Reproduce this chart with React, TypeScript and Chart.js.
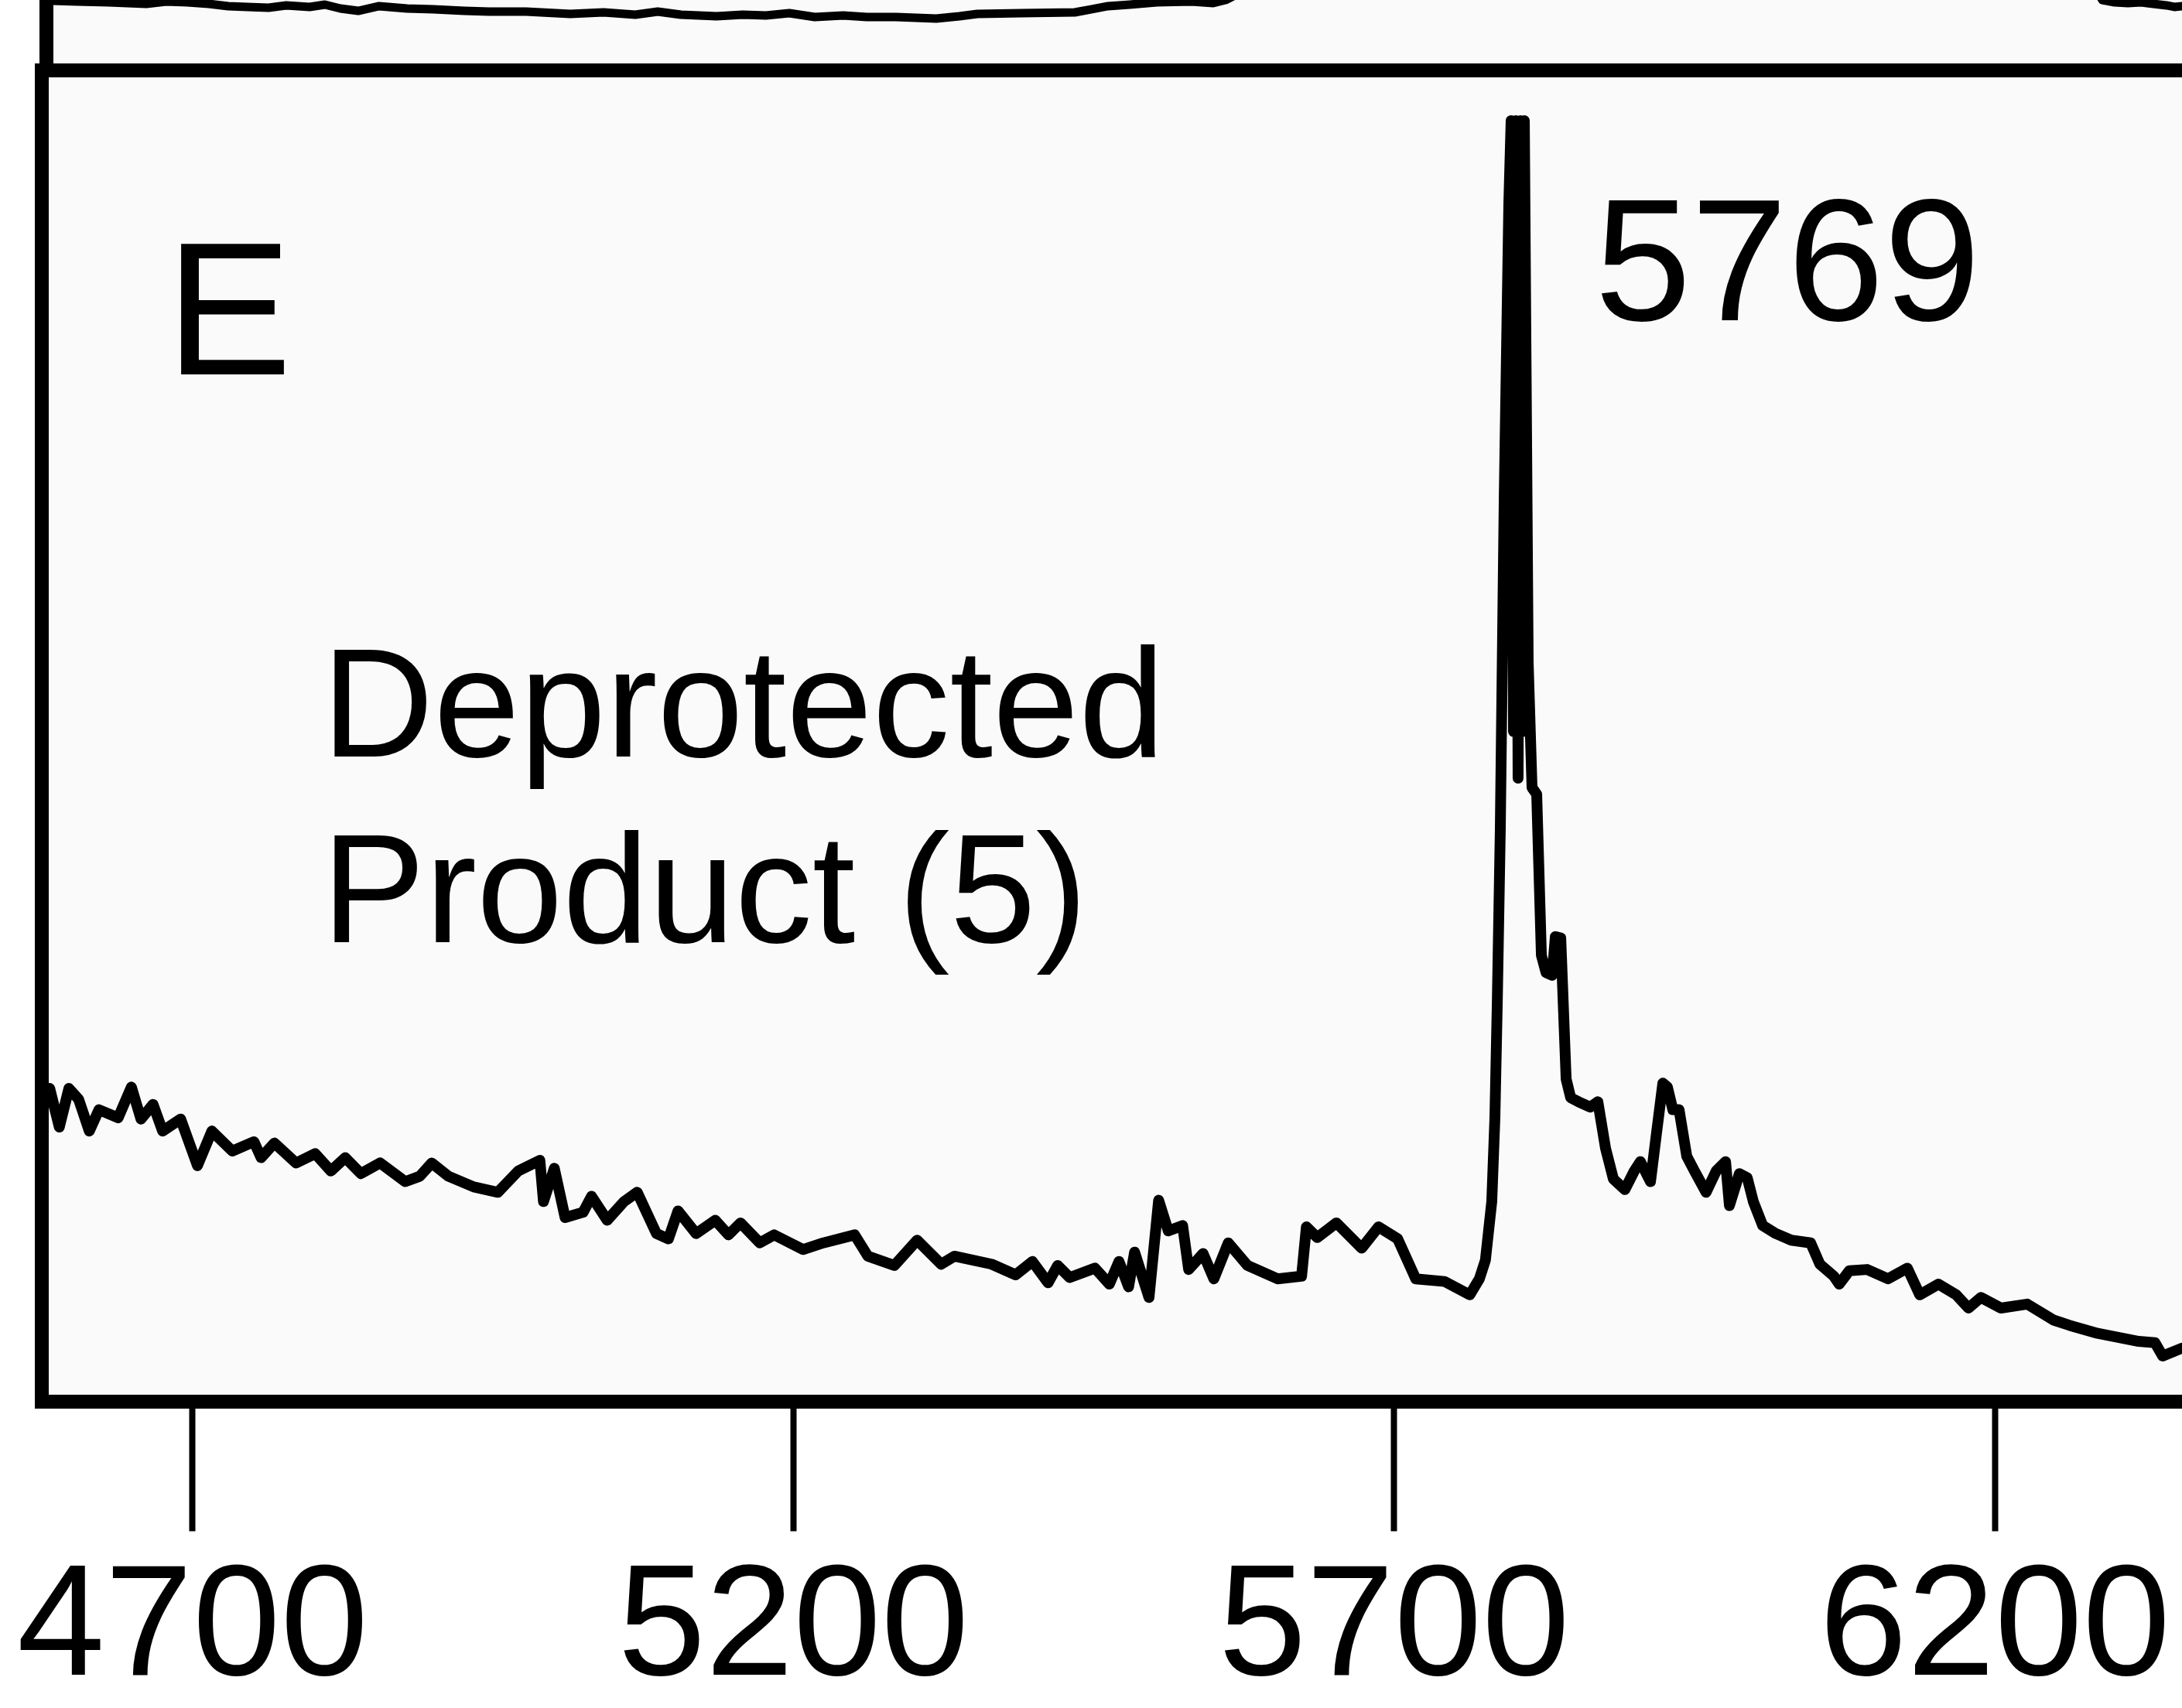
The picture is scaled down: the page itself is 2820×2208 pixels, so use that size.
import React, { useEffect, useRef } from "react";
import { Chart, registerables } from "chart.js";

Chart.register(...registerables);

// ---------- data ----------
const xTicks = [4700, 5200, 5700, 6200];

// Panel E spectrum: mass (Da) and intensity (a.u.), row by row
const massE = [
  4574, 4581, 4589, 4597, 4605, 4614, 4622, 4638, 4649, 4657, 4667, 4675,
  4690, 4704, 4716, 4733, 4751, 4757, 4768, 4786, 4802, 4815, 4827, 4840,
  4856, 4877, 4889, 4899, 4913, 4934, 4954, 4971, 4989, 4992, 5001, 5010,
  5025, 5032, 5045, 5059, 5070, 5086, 5096, 5104, 5119, 5135, 5146, 5156,
  5172, 5184, 5208, 5225, 5251, 5262, 5284, 5303, 5323, 5334, 5365, 5385,
  5399, 5412, 5420, 5430, 5451, 5463, 5471, 5479, 5484, 5496, 5504, 5512,
  5524, 5529, 5541, 5550, 5562, 5578, 5603, 5623, 5627, 5636, 5652, 5673,
  5687, 5703, 5718, 5742, 5763, 5771, 5776, 5781.3, 5783.9, 5785.9, 5788.4, 5791.7,
  5795.5, 5797.4, 5799.4, 5801.3, 5803.2, 5805.2, 5807.1, 5808.4, 5811.6, 5814.8, 5818.7, 5822.6,
  5826.5, 5831.6, 5834.2, 5838.7, 5843.2, 5847.0, 5853.5, 5863.2, 5869.6, 5876.0, 5882.5, 5892.1,
  5899.9, 5905.0, 5913.4, 5918.5, 5923.7, 5927.5, 5932.0, 5937.2, 5943.6, 5950.0, 5959.7, 5968.1,
  5975.9, 5979.1, 5987.4, 5993.9, 5999.0, 6006.8, 6017.7, 6030.6, 6046.7, 6054.4, 6066.0, 6070.5,
  6078.9, 6093.7, 6111.1, 6127.2, 6137.5, 6153.0, 6167.8, 6178.1, 6188.4, 6205.1, 6227.0, 6248.9,
  6262.4, 6285.6, 6319.8, 6333.3, 6339.7, 6356,
];
const intensityE = [
  22.5, 23.5, 20.6, 23.5, 22.7, 20.3, 21.9, 21.3, 23.6, 21.2, 22.3, 20.3,
  21.2, 17.7, 20.3, 18.8, 19.5, 18.3, 19.4, 17.9, 18.6, 17.3, 18.3, 17.1,
  17.9, 16.5, 16.9, 17.9, 16.9, 16.1, 15.7, 17.3, 18.1, 15.0, 17.5, 13.8,
  14.2, 15.4, 13.6, 15.0, 15.7, 12.6, 12.2, 14.3, 12.6, 13.6, 12.5, 13.4,
  11.9, 12.5, 11.4, 11.9, 12.5, 10.9, 10.2, 12.1, 10.3, 10.9, 10.3, 9.5,
  10.5, 8.9, 10.2, 9.3, 10.0, 8.8, 10.5, 8.6, 11.2, 7.8, 15.1, 12.8,
  13.2, 9.9, 11.1, 9.2, 11.9, 10.2, 9.2, 9.4, 13.1, 12.3, 13.4, 11.5,
  13.1, 12.2, 9.2, 9.0, 8.0, 9.2, 10.6, 15.0, 21.3, 30.0, 43.0, 68.1,
  90.0, 96.2, 50.3, 96.2, 46.8, 96.2, 50.3, 96.2, 55.5, 46.1, 45.6, 33.5,
  32.2, 32.0, 34.9, 34.8, 24.2, 22.8, 22.5, 22.1, 22.5, 19.0, 16.7, 15.9,
  17.3, 18.0, 16.5, 20.2, 23.9, 23.6, 21.9, 21.9, 18.4, 17.3, 15.7, 17.3,
  18.0, 14.7, 17.1, 16.8, 15.0, 13.2, 12.6, 12.1, 11.9, 10.3, 9.4, 8.8,
  9.8, 9.9, 9.2, 10.0, 8.0, 8.8, 8.0, 7.0, 7.8, 7.0, 7.3, 6.1,
  5.7, 5.1, 4.5, 4.4, 3.4, 4.0,
];

// Panel D (above, only its lowest part is visible); null = leaves the visible window
const massD = [
  4578.3, 4583.4, 4604.0, 4629.8, 4661.4, 4678.1, 4695.5, 4713.5, 4729.6, 4745.7, 4763.1, 4777.9,
  4797.3, 4810.1, 4823.0, 4837.8, 4855.2, 4878.4, 4900.3, 4926.1, 4946.7, 4977.6, 5014.3, 5042.0,
  5068.4, 5087.1, 5106.4, 5136.0, 5157.9, 5177.2, 5196.6, 5217.8, 5241.6, 5261.0, 5285.4, 5318.9,
  5338.2, 5353.1, 5389.8, 5434.2, 5447.7, 5461.9, 5479.9, 5502.5, 5531.5, 5549.5, 5559.8, 5570.1,
  5900, 6286.3, 6289.5, 6299.8, 6310.7, 6321.7, 6332.0, 6342.9, 6349.4, 6355.8,
];
const intensityD = [
  105.5, 98.9, 97.8, 96.7, 94.5, 97.8, 96.7, 94.5, 91.2, 90.1, 89.0, 92.3,
  90.1, 93.4, 87.8, 84.5, 91.2, 87.8, 86.7, 84.5, 83.4, 83.4, 80.1, 82.3,
  79.0, 83.4, 79.0, 76.8, 79.0, 77.9, 81.2, 75.7, 77.9, 75.7, 75.7, 73.5,
  76.8, 80.1, 81.2, 82.3, 86.7, 91.2, 93.4, 96.7, 97.8, 95.6, 100, 108.8,
  null, 108.8, 100, 96.7, 95.6, 96.7, 94.5, 92.3, 90.1, 91.2,
];

const panelLabel = "E";
const peakLabel = "5769";
const productLabel = ["Deprotected", "Product (5)"];

// ---------- helpers ----------
const FONT = '"Liberation Sans", Arial, Helvetica, sans-serif';
const W = 2820;
const H_E = 2250;
const H_D = 91;

function makeBgPlugin(color: string) {
  return {
    id: "plotBg",
    beforeDraw(chart: any) {
      const { ctx, chartArea: a } = chart;
      ctx.save();
      ctx.fillStyle = color;
      ctx.fillRect(a.left, a.top, a.right - a.left, a.bottom - a.top);
      ctx.restore();
    },
  };
}

type TextItem = { text: string; size: number; dx?: number; dy?: number; at?: [number, number] };

function makeTextPlugin(items: TextItem[]) {
  return {
    id: "panelText",
    afterDraw(chart: any) {
      const { ctx, chartArea: a, scales } = chart;
      ctx.save();
      ctx.fillStyle = "#000";
      ctx.textAlign = "left";
      ctx.textBaseline = "alphabetic";
      for (const t of items) {
        ctx.font = `${t.size}px ${FONT}`;
        let x: number, y: number;
        if (t.at) {
          x = scales.x.getPixelForValue(t.at[0]);
          y = scales.y.getPixelForValue(t.at[1]);
        } else {
          x = a.left + (t.dx || 0);
          y = a.top + (t.dy || 0);
        }
        ctx.fillText(t.text, x, y);
      }
      ctx.restore();
    },
  };
}

export default function App() {
  const dRef = useRef<HTMLCanvasElement>(null);
  const eRef = useRef<HTMLCanvasElement>(null);

  useEffect(() => {
    const dataE = massE.map((m, i) => ({ x: m, y: intensityE[i] }));
    const dataD = massD.map((m, i) => ({ x: m, y: intensityD[i] }));

    const chartD = new Chart(dRef.current as HTMLCanvasElement, {
      type: "line",
      data: {
        datasets: [
          {
            data: dataD as any,
            borderColor: "#000",
            borderWidth: 11,
            pointRadius: 0,
            tension: 0,
            spanGaps: false,
            borderJoinStyle: "round",
            borderCapStyle: "round",
          },
        ],
      },
      options: {
        animation: false,
        responsive: false,
        devicePixelRatio: 1,
        events: [],
        layout: { padding: { left: 60, top: 0, right: 0, bottom: 0.5 } },
        plugins: {
          legend: { display: false },
          tooltip: { enabled: false },
        },
        scales: {
          x: { type: "linear", min: 4578.3, max: 6355.8, display: false },
          y: {
            type: "linear",
            min: 0,
            max: 100,
            display: true,
            grid: { display: false, drawTicks: false, tickLength: 0 },
            ticks: { display: false },
            border: { display: true, width: 18, color: "#000" },
          },
        },
      },
      plugins: [makeBgPlugin("#fafafa")],
    });

    const textItems: TextItem[] = [
      { text: panelLabel, size: 245, dx: 160.5, dy: 393.5 },
      { text: productLabel[0], size: 200, dx: 362.5, dy: 887.5 },
      { text: productLabel[1], size: 200, dx: 362.5, dy: 1127.5 },
      { text: peakLabel, size: 224, at: [5867, 81.2] },
    ];

    const chartE = new Chart(eRef.current as HTMLCanvasElement, {
      type: "line",
      data: {
        datasets: [
          {
            data: dataE as any,
            borderColor: "#000",
            borderWidth: 14,
            pointRadius: 0,
            tension: 0,
            borderJoinStyle: "round",
            borderCapStyle: "round",
          },
        ],
      },
      options: {
        animation: false,
        responsive: false,
        devicePixelRatio: 1,
        events: [],
        layout: {
          padding: { left: 53.5, top: 90.5, right: 0, bottom: H_E - 1818.5 - 168 - 7 - 204 * 1.2 },
        },
        plugins: {
          legend: { display: false },
          tooltip: { enabled: false },
        },
        scales: {
          x: {
            type: "linear",
            position: "bottom",
            min: 4574.1,
            max: 6355.8,
            afterBuildTicks: (s: any) => {
              s.ticks = xTicks.map((v) => ({ value: v }));
            },
            grid: {
              display: true,
              drawOnChartArea: false,
              drawTicks: true,
              tickLength: 168,
              tickWidth: 8,
              tickColor: "#000",
              color: "#000",
            },
            border: { display: true, width: 18, color: "#000" },
            ticks: {
              color: "#000",
              padding: 7,
              maxRotation: 0,
              autoSkip: false,
              font: { family: FONT, size: 204, lineHeight: 1.2 },
              callback: (v: any) => String(v),
            },
          },
          x2: {
            type: "linear",
            position: "top",
            display: true,
            grid: { display: false, drawTicks: false, tickLength: 0 },
            ticks: { display: false },
            border: { display: true, width: 18, color: "#000" },
          },
          y: {
            type: "linear",
            min: 0,
            max: 100,
            display: true,
            grid: { display: false, drawTicks: false, tickLength: 0 },
            ticks: { display: false },
            border: { display: true, width: 18, color: "#000" },
          },
        },
      },
      plugins: [makeBgPlugin("#fafafa"), makeTextPlugin(textItems)],
    });

    return () => {
      chartD.destroy();
      chartE.destroy();
    };
  }, []);

  return (
    <div
      style={{
        position: "fixed",
        left: 0,
        top: 0,
        width: W,
        height: 2208,
        overflow: "hidden",
        background: "#fff",
      }}
    >
      <canvas
        ref={dRef}
        width={W}
        height={H_D}
        style={{ position: "absolute", left: 0, top: 0, width: W, height: H_D }}
      />
      <canvas
        ref={eRef}
        width={W}
        height={H_E}
        style={{ position: "absolute", left: 0, top: 0, width: W, height: H_E }}
      />
    </div>
  );
}
